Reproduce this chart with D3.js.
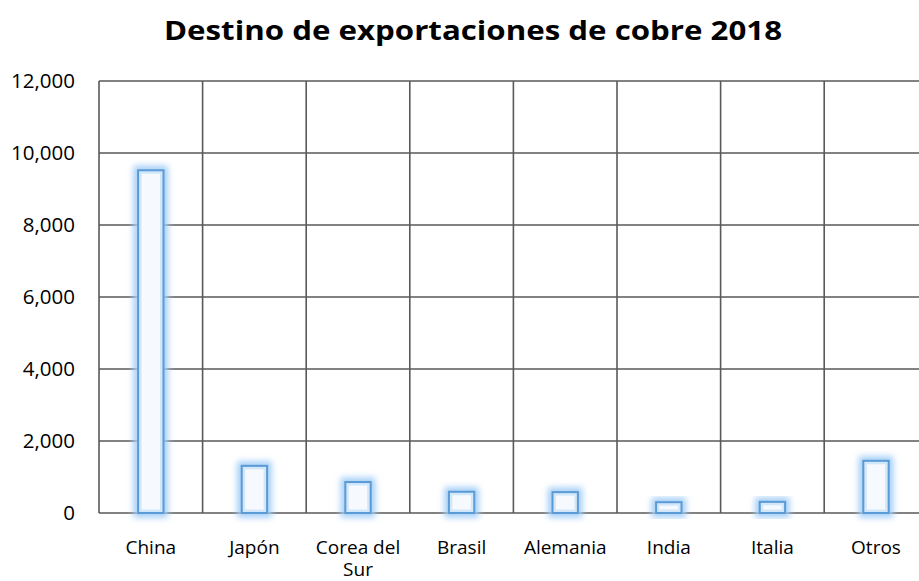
<!DOCTYPE html>
<html>
<head>
<meta charset="utf-8">
<script src="https://cdn.jsdelivr.net/npm/d3@7"></script>
<style>
  body { margin: 0; background: #fff; overflow: hidden; }
  text { font-family: "Open Sans", "Noto Sans", sans-serif; fill: #000; }
</style>
</head>
<body>
<div id="chart"></div>
<script>
// data
var categories = ["China", "Japón", "Corea del Sur", "Brasil", "Alemania", "India", "Italia", "Otros"];
var values = [9520, 1310, 860, 590, 580, 300, 310, 1450];
var yTicks = [0, 2000, 4000, 6000, 8000, 10000, 12000];
var title = "Destino de exportaciones de cobre 2018";

var W = 919, H = 581;
var plotLeft = 99, plotTop = 81, plotBottom = 513;
var step = 103.6;

var svg = d3.select("#chart").append("svg")
    .attr("width", W)
    .attr("height", H);

var defs = svg.append("defs");
var glow = defs.append("filter").attr("id", "glow")
    .attr("x", "-50%").attr("y", "-50%").attr("width", "200%").attr("height", "200%");
glow.append("feGaussianBlur").attr("stdDeviation", 3);

var x = d3.scaleBand()
    .domain(categories)
    .range([plotLeft, plotLeft + step * categories.length])
    .padding(0);

var y = d3.scaleLinear()
    .domain([0, 12000])
    .range([plotBottom, plotTop]);

var barW = x.bandwidth() * 0.245;

// title
svg.append("text")
    .attr("x", 473)
    .attr("y", 40)
    .attr("text-anchor", "middle")
    .attr("textLength", 618)
    .attr("lengthAdjust", "spacingAndGlyphs")
    .style("font-size", "27px")
    .style("font-weight", "bold")
    .text(title);

// grid
var grid = svg.append("g");
grid.selectAll("line.h")
    .data(yTicks)
    .enter().append("line")
    .attr("class", "h")
    .attr("x1", plotLeft).attr("x2", plotLeft + step * categories.length)
    .attr("y1", function(d) { return y(d); })
    .attr("y2", function(d) { return y(d); })
    .attr("stroke", "#595959").attr("stroke-width", 1.6);

grid.selectAll("line.v")
    .data(d3.range(categories.length + 1))
    .enter().append("line")
    .attr("class", "v")
    .attr("x1", function(i) { return plotLeft + step * i; })
    .attr("x2", function(i) { return plotLeft + step * i; })
    .attr("y1", plotTop).attr("y2", plotBottom)
    .attr("stroke", "#595959").attr("stroke-width", 1.6);

// y axis labels
var yAxis = d3.axisLeft(y)
    .tickValues(yTicks)
    .tickSize(0)
    .tickPadding(24)
    .tickFormat(d3.format(","));
var ya = svg.append("g")
    .attr("transform", "translate(" + plotLeft + ",0)")
    .call(yAxis);
ya.select(".domain").remove();
ya.attr("font-family", null).attr("font-size", null);
ya.selectAll("text")
    .style("font-size", "20.5px")
    .attr("fill", "#000");

// x axis labels
var xAxis = d3.axisBottom(x).tickSize(0).tickPadding(28);
var xa = svg.append("g")
    .attr("transform", "translate(0," + plotBottom + ")")
    .call(xAxis);
xa.select(".domain").remove();
xa.attr("font-family", null).attr("font-size", null);
xa.selectAll("text")
    .style("font-size", "19px")
    .attr("fill", "#000")
    .each(function(d) {
      var t = d3.select(this);
      if (d === "Corea del Sur") {
        t.text(null);
        t.append("tspan").attr("x", 0).attr("dy", "0.71em").text("Corea del");
        t.append("tspan").attr("x", 0).attr("dy", "1.12em").text("Sur");
        t.attr("dy", null);
      }
    });

// bars
var bars = svg.append("g");
bars.selectAll("rect.glow")
    .data(values)
    .enter().append("rect")
    .attr("class", "glow")
    .attr("x", function(d, i) { return x(categories[i]) + (x.bandwidth() - barW) / 2; })
    .attr("y", function(d) { return y(d); })
    .attr("width", barW)
    .attr("height", function(d) { return plotBottom - y(d); })
    .attr("fill", "none")
    .attr("stroke", "#a3cef7")
    .attr("stroke-width", 9)
    .attr("filter", "url(#glow)");

bars.selectAll("rect.inner")
    .data(values)
    .enter().append("rect")
    .attr("class", "inner")
    .attr("x", function(d, i) { return x(categories[i]) + (x.bandwidth() - barW) / 2 + 2; })
    .attr("y", function(d) { return y(d) + 2; })
    .attr("width", barW - 4)
    .attr("height", function(d) { return Math.max(0, plotBottom - y(d) - 4); })
    .attr("fill", "#f6fafe")
    .attr("stroke", "#d3e7fb")
    .attr("stroke-width", 3);

bars.selectAll("rect.bar")
    .data(values)
    .enter().append("rect")
    .attr("class", "bar")
    .attr("x", function(d, i) { return x(categories[i]) + (x.bandwidth() - barW) / 2; })
    .attr("y", function(d) { return y(d); })
    .attr("width", barW)
    .attr("height", function(d) { return plotBottom - y(d); })
    .attr("fill", "none")
    .attr("stroke", "#5b9bd5")
    .attr("stroke-width", 2);
</script>
</body>
</html>
